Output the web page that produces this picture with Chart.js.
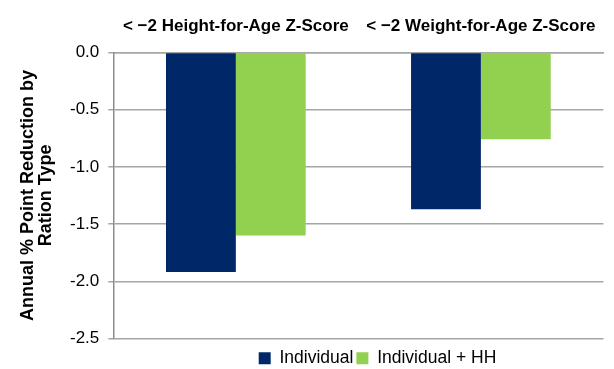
<!DOCTYPE html>
<html>
<head>
<meta charset="utf-8">
<script src="https://cdn.jsdelivr.net/npm/chart.js@4"></script>
<style>
  html, body { margin: 0; padding: 0; background: #fff; }
  #wrap { width: 614px; height: 369px; }
</style>
</head>
<body>
<div id="wrap"><canvas id="myChart" width="614" height="369"></canvas></div>
<script>
const ctx = document.getElementById('myChart').getContext('2d');

const categories = ['< \u22122 Height-for-Age Z-Score', '< \u22122 Weight-for-Age Z-Score'];
const individual = [-1.92, -1.37];
const individualHH = [-1.60, -0.76];
const yTicks = [0, -0.5, -1.0, -1.5, -2.0, -2.5];

// nudge the legend right and down, like the original
const shiftLegend = {
  id: 'shiftLegend',
  afterLayout(chart) {
    const lg = chart.legend;
    lg.left += 66;
    lg.right += 66;
    lg.top += 8;
    lg.bottom += 8;
  }
};

const myChart = new Chart(ctx, {
  type: 'bar',
  data: {
    labels: categories,
    datasets: [{
      label: 'Individual',
      data: individual,
      backgroundColor: '#002868',
      borderColor: '#002868'
    }, {
      label: 'Individual + HH',
      data: individualHH,
      backgroundColor: '#92d050',
      borderColor: '#92d050'
    }]
  },
  options: {
    responsive: false,
    animation: false,
    layout: {
      padding: { top: 0, right: 10, left: 19, bottom: 0 }
    },
    datasets: {
      bar: {
        categoryPercentage: 0.57,
        barPercentage: 1.0
      }
    },
    scales: {
      x: {
        position: 'top',
        grid: { display: false, drawTicks: false },
        border: { display: true, color: '#a6a6a6', width: 1.5 },
        ticks: {
          color: '#000',
          font: { family: 'Liberation Sans', size: 17, weight: 'bold' },
          maxRotation: 0,
          autoSkip: false,
          padding: 16
        }
      },
      y: {
        min: -2.5,
        max: 0,
        afterBuildTicks(axis) {
          axis.ticks = yTicks.map(v => ({ value: v }));
        },
        grid: {
          color: '#a6a6a6',
          lineWidth: 1.5,
          tickLength: 5
        },
        border: { display: true, color: '#8c8c8c', width: 1.5 },
        ticks: {
          color: '#000',
          font: { family: 'Liberation Sans', size: 17 },
          padding: 9,
          callback: v => Number(v).toFixed(1)
        },
        title: {
          display: true,
          text: ['Annual % Point Reduction by', 'Ration Type'],
          color: '#000',
          font: { family: 'Liberation Sans', size: 18, weight: 'bold', lineHeight: 1.0 },
          padding: { top: 0, bottom: 6 }
        }
      }
    },
    plugins: {
      legend: {
        display: true,
        position: 'bottom',
        labels: {
          color: '#000',
          font: { family: 'Liberation Sans', size: 17.5 },
          boxWidth: 12,
          boxHeight: 12,
          padding: 3
        }
      },
      tooltip: { enabled: false }
    }
  },
  plugins: [shiftLegend]
});
</script>
</body>
</html>
